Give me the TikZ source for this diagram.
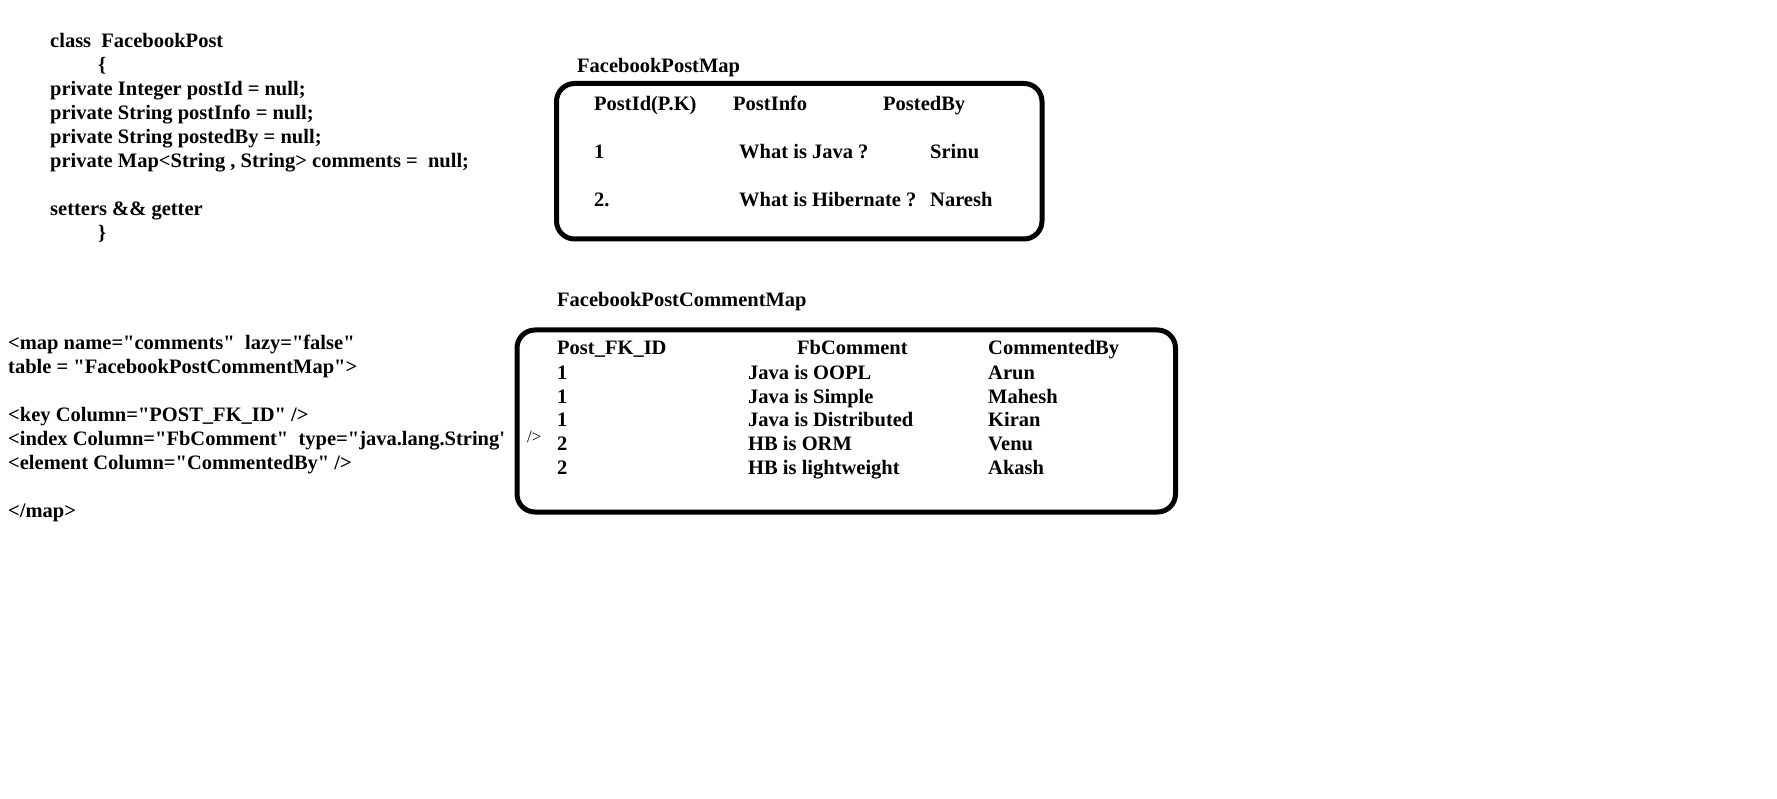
\documentclass[tikz,border=0pt]{standalone}
\usepackage{fontspec}
\setmainfont{Liberation Serif}[Ligatures=TeXOff]
\newcommand{\codefont}{\fontsize{20.5}{24}\selectfont\bfseries}
\newcommand{\tagfont}{\fontsize{17}{19}\selectfont}
\tikzset{
  codeline/.style={
    anchor=base west,
    inner sep=0pt,
    font=\codefont
  },
  cell/.style={
    anchor=base west,
    inner sep=0pt,
    font=\codefont
  },
  closetag/.style={
    anchor=west,
    inner sep=0pt,
    font=\tagfont
  },
  tablebox/.style={
    draw=black,
    line width=5pt,
    rounded corners=18pt,
    anchor=north west,
    inner sep=0pt
  }
}

\begin{document}
\begin{tikzpicture}[x=1pt, y=-1pt]
\useasboundingbox (0,0) rectangle (1777,799);

\node[codeline] (cls) at (50,47.5) {class \ FacebookPost};
\node[codeline] (lbrace) at (98,71.5) {\{};
\node[codeline] (fid) at (50,96) {private Integer postId = null;};
\node[codeline] (finfo) at (50,120) {private String postInfo = null;};
\node[codeline] (fby) at (50,144) {private String postedBy = null;};
\node[codeline] (fmap) at (50,168) {private Map<String , String> comments = \ null;};
\node[codeline] (acc) at (50,216) {setters \&\& getter};
\node[codeline] (rbrace) at (98,239.5) {\}};

\node[codeline] (mapopen) at (8,349.5) {<map name="comments" \ lazy="false"};
\node[codeline] (maptable) at (8,373.5) {table = "FacebookPostCommentMap">};
\node[codeline] (mapkey) at (8,421.7) {<key Column="POST\_FK\_ID" />};
\node[codeline] (mapindex) at (8,445.7) {<index Column="FbComment" \ type="java.lang.String'};
\node[closetag] (indexend) at (527,437) {/>};
\node[codeline] (mapelem) at (8,469.7) {<element Column="CommentedBy" />};
\node[codeline] (mapclose) at (8,517) {</map>};

\node[codeline] (posttitle) at (577,72.3) {FacebookPostMap};
\node[tablebox, minimum width=485.5pt, minimum height=155.5pt] (postbox) at (554,81) {};
\node[cell] (hid) at (594,111) {PostId(P.K)};
\node[cell] (hinfo) at (733,111) {PostInfo};
\node[cell] (hby) at (883,111) {PostedBy};
\node[cell] (r1id) at (594,158.3) {1};
\node[cell] (r1info) at (739,158.3) {What is Java ?};
\node[cell] (r1by) at (930,158.3) {Srinu};
\node[cell] (r2id) at (594,206.7) {2.};
\node[cell] (r2info) at (739,206.7) {What is Hibernate ?};
\node[cell] (r2by) at (930,206.7) {Naresh};

\node[codeline] (cmttitle) at (557,307) {FacebookPostCommentMap};
\node[tablebox, minimum width=658.5pt, minimum height=182pt] (cmtbox) at (514.5,327.5) {};
\node[cell] (cid) at (557,355) {Post\_FK\_ID};
\node[cell] (ctext) at (797,355) {FbComment};
\node[cell] (cby) at (988,355) {CommentedBy};
\node[cell] (c1id) at (557,379) {1};
\node[cell] (c1text) at (748,379) {Java is OOPL};
\node[cell] (c1by) at (988,379) {Arun};
\node[cell] (c2id) at (557,403) {1};
\node[cell] (c2text) at (748,403) {Java is Simple};
\node[cell] (c2by) at (988,403) {Mahesh};
\node[cell] (c3id) at (557,426.7) {1};
\node[cell] (c3text) at (748,426.7) {Java is Distributed};
\node[cell] (c3by) at (988,426.7) {Kiran};
\node[cell] (c4id) at (557,450.7) {2};
\node[cell] (c4text) at (748,450.7) {HB is ORM};
\node[cell] (c4by) at (988,450.7) {Venu};
\node[cell] (c5id) at (557,474) {2};
\node[cell] (c5text) at (748,474) {HB is lightweight};
\node[cell] (c5by) at (988,474) {Akash};
\end{tikzpicture}
\end{document}
